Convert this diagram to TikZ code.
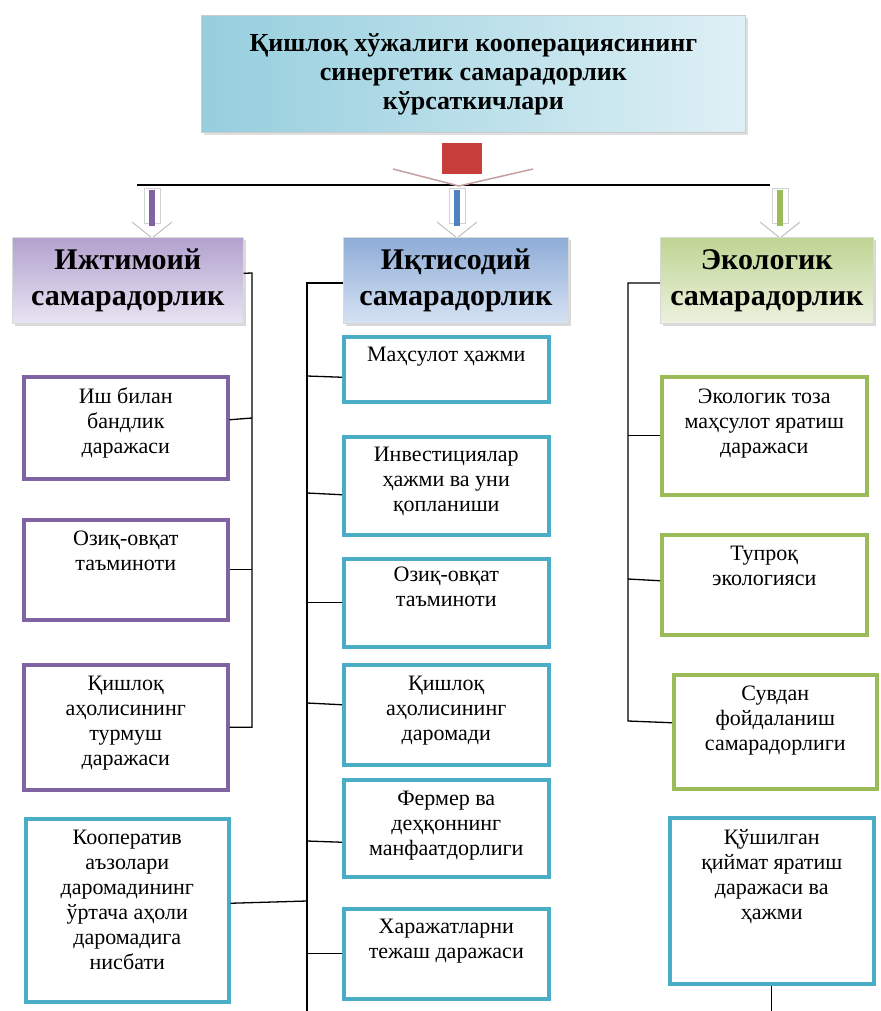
\documentclass[tikz,border=0pt]{standalone}
\usepackage{fontspec}
\setmainfont{Liberation Serif}
\usepackage{tikz}
\usetikzlibrary{positioning,shadows}
\definecolor{violetline}{RGB}{128,100,162}
\definecolor{violetdark}{RGB}{178,161,206}
\definecolor{violetlight}{RGB}{232,228,242}
\definecolor{cyanline}{RGB}{75,172,198}
\definecolor{bluedark}{RGB}{142,172,215}
\definecolor{bluelight}{RGB}{214,226,243}
\definecolor{blueline}{RGB}{79,129,189}
\definecolor{greenline}{RGB}{155,187,89}
\definecolor{greendark}{RGB}{190,212,146}
\definecolor{greenlight}{RGB}{236,242,222}
\definecolor{titledark}{RGB}{150,206,222}
\definecolor{titlelight}{RGB}{222,240,245}
\definecolor{arrowred}{RGB}{200,62,60}
\definecolor{rosegray}{RGB}{196,160,160}

\begin{document}
\begin{tikzpicture}[
        x=1pt, y=-1pt,
        titlebox/.style={
            rectangle,
            draw=gray!40,
            line width=0.8pt,
            left color=titledark,
            right color=titlelight,
            minimum width=544pt,
            minimum height=117pt,
            anchor=north west,
            align=center,
            font=\bfseries\fontsize{26}{29}\selectfont,
            drop shadow={opacity=0.25}
        },
        head/.style={
            rectangle,
            draw=gray!30,
            line width=0.6pt,
            anchor=north west,
            minimum height=86pt,
            align=center,
            font=\bfseries\fontsize{30}{36}\selectfont,
            drop shadow={opacity=0.3}
        },
        item/.style={
            rectangle,
            line width=3.5pt,
            fill=white,
            anchor=north west,
            inner sep=0pt
        },
        itemtext/.style={
            anchor=north,
            align=center,
            inner sep=0pt,
            font=\fontsize{22}{25}\selectfont
        },
        link/.style={
            black,
            line width=1.3pt
        }
    ]
    \useasboundingbox (0,0) rectangle (880,1011);

    % title on top
    \node[titlebox] (title) at (201,15) {Қишлоқ хўжалиги кооперациясининг\\синергетик самарадорлик\\кўрсаткичлари};

    % bar under the title
    \coordinate (barL) at (137,185);
    \coordinate (barR) at (770,185);
    \draw[link] (barL) -- (barR);

    % red arrow
    \fill[white] (393,169) -- (533,169) -- (459,186) -- cycle;
    \draw[rosegray, line width=1.5pt] (393,169) -- (459,186) -- (533,169);
    \fill[arrowred] (442,143) rectangle (482,174);

    % small arrows to the three headers
    \fill[white] (132,222) -- (172,222) -- (152,238) -- cycle;
    \draw[gray!50, line width=1pt] (132,222) -- (152,238) -- (172,222);
    \draw[gray!35, fill=white, line width=0.6pt] (144,188) rectangle (160,223);
    \fill[violetline] (149,190) rectangle (155,226);

    \fill[white] (437,222) -- (477,222) -- (457,238) -- cycle;
    \draw[gray!50, line width=1pt] (437,222) -- (457,238) -- (477,222);
    \draw[gray!35, fill=white, line width=0.6pt] (449,188) rectangle (465,223);
    \fill[blueline] (454,190) rectangle (460,226);

    \fill[white] (760,222) -- (800,222) -- (780,238) -- cycle;
    \draw[gray!50, line width=1pt] (760,222) -- (780,238) -- (800,222);
    \draw[gray!35, fill=white, line width=0.6pt] (772,188) rectangle (788,223);
    \fill[greenline] (777,190) rectangle (783,226);

    % headers
    \node[head, minimum width=231pt, top color=violetdark, bottom color=violetlight] (soc) at (12,237) {Ижтимоий\\самарадорлик};
    \node[head, minimum width=225pt, top color=bluedark, bottom color=bluelight] (eco) at (343,237) {Иқтисодий\\самарадорлик};
    \node[head, minimum width=213pt, top color=greendark, bottom color=greenlight] (env) at (660,237) {Экологик\\самарадорлик};

    % social column
    \node[item, draw=violetline, minimum width=204pt, minimum height=102pt] (s1) at (22,375) {};
    \node[itemtext] (s1t) at ([yshift=-13pt]s1.north) {Иш билан\\бандлик\\даражаси};
    \node[item, draw=violetline, minimum width=204pt, minimum height=100pt] (s2) at (22,518) {};
    \node[itemtext] (s2t) at ([yshift=-13pt]s2.north) {Озиқ-овқат\\таъминоти};
    \node[item, draw=violetline, minimum width=204pt, minimum height=125pt] (s3) at (22,663) {};
    \node[itemtext] (s3t) at ([yshift=-13pt]s3.north) {Қишлоқ\\аҳолисининг\\турмуш\\даражаси};
    \node[item, draw=cyanline, minimum width=203pt, minimum height=183pt] (k1) at (24,817) {};
    \node[itemtext] (k1t) at ([yshift=-13pt]k1.north) {Кооператив\\аъзолари\\даромадининг\\ўртача аҳоли\\даромадига\\нисбати};

    % economic column
    \node[item, draw=cyanline, minimum width=205pt, minimum height=65pt] (e1) at (342,335) {};
    \node[itemtext] (e1t) at ([yshift=-12pt]e1.north) {Маҳсулот ҳажми};
    \node[item, draw=cyanline, minimum width=205pt, minimum height=98pt] (e2) at (342,435) {};
    \node[itemtext] (e2t) at ([yshift=-12pt]e2.north) {Инвестициялар\\ҳажми ва уни\\қопланиши};
    \node[item, draw=cyanline, minimum width=205pt, minimum height=88pt] (e3) at (342,557) {};
    \node[itemtext] (e3t) at ([yshift=-10pt]e3.north) {Озиқ-овқат\\таъминоти};
    \node[item, draw=cyanline, minimum width=205pt, minimum height=100pt] (e4) at (342,663) {};
    \node[itemtext] (e4t) at ([yshift=-13pt]e4.north) {Қишлоқ\\аҳолисининг\\даромади};
    \node[item, draw=cyanline, minimum width=205pt, minimum height=97pt] (e5) at (342,778) {};
    \node[itemtext] (e5t) at ([yshift=-13pt]e5.north) {Фермер ва\\деҳқоннинг\\манфаатдорлиги};
    \node[item, draw=cyanline, minimum width=205pt, minimum height=90pt] (e6) at (342,907) {};
    \node[itemtext] (e6t) at ([yshift=-12pt]e6.north) {Харажатларни\\тежаш даражаси};

    % ecological column
    \node[item, draw=greenline, minimum width=205pt, minimum height=118pt] (c1) at (660,375) {};
    \node[itemtext] (c1t) at ([yshift=-14pt]c1.north) {Экологик тоза\\маҳсулот яратиш\\даражаси};
    \node[item, draw=greenline, minimum width=205pt, minimum height=100pt] (c2) at (660,533) {};
    \node[itemtext] (c2t) at ([yshift=-13pt]c2.north) {Тупроқ\\экологияси};
    \node[item, draw=greenline, minimum width=203pt, minimum height=114pt] (c3) at (672,673) {};
    \node[itemtext] (c3t) at ([yshift=-13pt]c3.north) {Сувдан\\фойдаланиш\\самарадорлиги};
    \node[item, draw=cyanline, minimum width=204pt, minimum height=166pt] (k2) at (668,816) {};
    \node[itemtext] (k2t) at ([yshift=-13pt]k2.north) {Қўшилган\\қиймат яратиш\\даражаси ва\\ҳажми};

    % brackets
    \coordinate (socspine) at (252,273);
    \draw[link] ([yshift=7pt]soc.east) -- (socspine) -- (socspine |- s3.east) -- (s3.east);
    \draw[link] ([yshift=8pt]s1.east) -- (socspine |- 0,418);
    \draw[link] (s2.east) -- (socspine |- s2.east);

    \coordinate (ecospine) at (307,283);
    \coordinate (ecoend) at (307,1011);
    \draw[link] (eco.west |- ecospine) -- (ecospine) -- (ecoend);
    \draw[link] ([yshift=-8pt]e1.west) -- (ecospine |- 0,376);
    \draw[link] ([yshift=-9pt]e2.west) -- (ecospine |- 0,493);
    \draw[link] (e3.west) -- (ecospine |- e3.west);
    \draw[link] ([yshift=10pt]e4.west) -- (ecospine |- 0,703);
    \draw[link] ([yshift=-14pt]e5.west) -- (ecospine |- 0,841);
    \draw[link] (e6.west) -- (ecospine |- e6.west);
    \draw[link] ([yshift=7pt]k1.east) -- (ecospine |- 0,901);

    \coordinate (envspine) at (628,283);
    \draw[link] (env.west |- envspine) -- (envspine) -- (envspine |- 0,721) -- ([yshift=9pt]c3.west);
    \draw[link] (c1.west) -- (envspine |- c1.west);
    \draw[link] ([yshift=4pt]c2.west) -- (envspine |- 0,579);

    \coordinate (k2end) at (k2.south |- 0,1011);
    \draw[link] (k2.south) -- (k2end);

\end{tikzpicture}
\end{document}
